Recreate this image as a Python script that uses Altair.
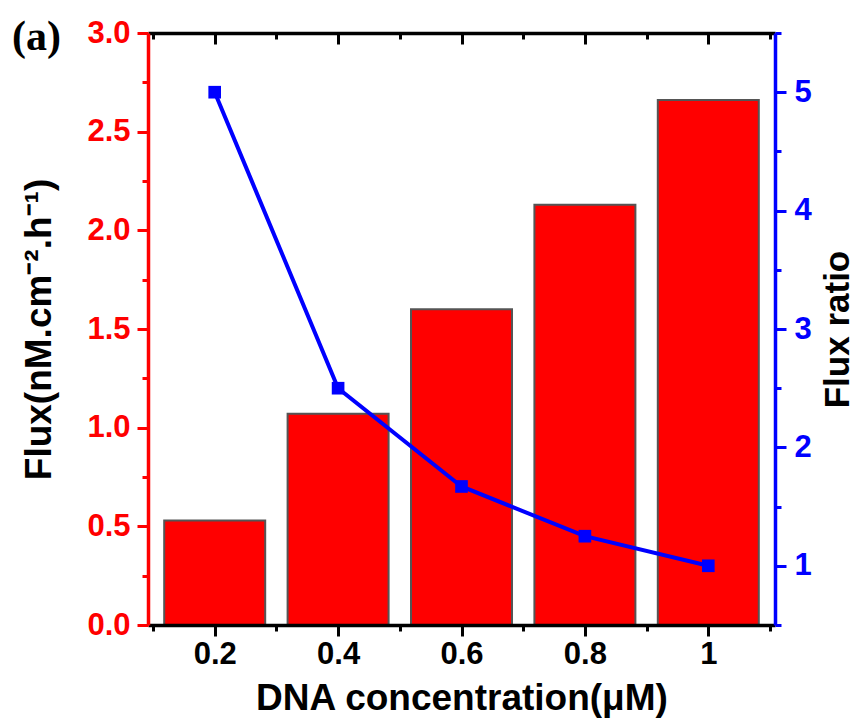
import altair as alt
import pandas as pd

# ---- data ----
dna = [0.2, 0.4, 0.6, 0.8, 1.0]
flux = [0.53, 1.07, 1.60, 2.13, 2.66]
ratio = [5.0, 2.5, 1.67, 1.25, 1.0]

x_ticks = [0.1, 0.2, 0.3, 0.4, 0.5, 0.6, 0.7, 0.8, 0.9, 1.0, 1.1]
flux_ticks = [0, 0.25, 0.5, 0.75, 1.0, 1.25, 1.5, 1.75, 2.0, 2.25, 2.5, 2.75, 3.0]
ratio_ticks = [0.5, 1, 1.5, 2, 2.5, 3, 3.5, 4, 4.5, 5, 5.5]

df = pd.DataFrame({"dna": dna, "flux": flux, "ratio": ratio})
lab = pd.DataFrame({"label": ["(a)"]})

FONT = "Liberation Sans"
RED = "#FF0000"
BLUE = "#0000FF"
PLOT_W, PLOT_H = 627, 592

xscale = alt.Scale(domain=[0.1, 1.1], nice=False, zero=False)

x_major = "abs(round(datum.value*10)) % 2 == 0"
f_major = "abs(datum.value*2 - round(datum.value*2)) < 0.01"
r_major = "abs(datum.value - round(datum.value)) < 0.01"


def tsize(test, big=11, small=6):
    return {"condition": {"test": test, "value": big}, "value": small}


bottom_axis = alt.Axis(
    orient="bottom", values=x_ticks, title="DNA concentration(μM)",
    labelExpr=f"{x_major} ? format(datum.value, '~g') : ''",
    tickSize=tsize(x_major), tickWidth=3, tickColor="black",
    domainColor="black", domainWidth=3.5, grid=False,
    labelFont=FONT, labelFontWeight="bold", labelFontSize=31, labelColor="black",
    labelPadding=3, labelFlush=False,
    titleFont=FONT, titleFontWeight="bold", titleFontSize=37, titleColor="black",
    titlePadding=11, zindex=2,
)

top_axis = alt.Axis(
    orient="bottom", offset=-PLOT_H, values=x_ticks, labels=False, title=None,
    tickSize=tsize(x_major), tickWidth=3, tickColor="black",
    domainColor="black", domainWidth=3.5, grid=False, zindex=2,
)

left_axis = alt.Axis(
    orient="left", values=flux_ticks, title="Flux(nM.cm⁻².h⁻¹)",
    labelExpr=f"{f_major} ? format(datum.value, '.1f') : ''",
    tickSize=tsize(f_major), tickWidth=3, tickColor=RED,
    domainColor=RED, domainWidth=3.5, grid=False,
    labelFont=FONT, labelFontWeight="bold", labelFontSize=31, labelColor=RED,
    labelPadding=7, labelFlush=False,
    titleFont=FONT, titleFontWeight="bold", titleFontSize=37, titleColor="black",
    titlePadding=28, zindex=2,
)

right_axis = alt.Axis(
    orient="right", values=ratio_ticks, title="Flux ratio",
    labelExpr=f"{r_major} ? format(datum.value, '~g') : ''",
    tickSize=tsize(r_major), tickWidth=3, tickColor=BLUE,
    domainColor=BLUE, domainWidth=3.5, grid=False,
    labelFont=FONT, labelFontWeight="bold", labelFontSize=31, labelColor=BLUE,
    labelPadding=8, labelFlush=False,
    titleFont=FONT, titleFontWeight="bold", titleFontSize=35, titleColor="black",
    titlePadding=9, titleAngle=-90, titleBaseline="top", zindex=2,
)

bars = alt.Chart(df).mark_bar(
    size=101, color=RED, stroke="#555555", strokeWidth=2
).encode(
    x=alt.X("dna:Q", scale=xscale, axis=bottom_axis),
    y=alt.Y("flux:Q", scale=alt.Scale(domain=[0, 3.0], nice=False), axis=left_axis),
)

line = alt.Chart(df).mark_line(
    color=BLUE, strokeWidth=4,
    point=alt.OverlayMarkDef(shape="square", size=160, filled=True, color=BLUE, opacity=1),
).encode(
    x=alt.X("dna:Q", scale=xscale, axis=top_axis),
    y=alt.Y("ratio:Q", scale=alt.Scale(domain=[0.5, 5.5], nice=False, zero=False), axis=right_axis),
)

label = alt.Chart(lab).mark_text(
    font="Liberation Serif", fontWeight="bold", fontSize=42, align="left",
    baseline="alphabetic", color="black",
).encode(
    x=alt.value(-136), y=alt.value(17), text="label:N"
)

chart = alt.layer(bars, line, label).resolve_scale(
    y="independent"
).resolve_axis(
    x="independent", y="independent"
).properties(
    width=PLOT_W, height=PLOT_H,
    padding={"left": 148, "top": 33, "right": 81, "bottom": 97},
    autosize=alt.AutoSizeParams(type="none"),
).configure_view(stroke=None).configure(background="white")

chart.save("out.html", embed_options={"renderer": "svg", "actions": False})
